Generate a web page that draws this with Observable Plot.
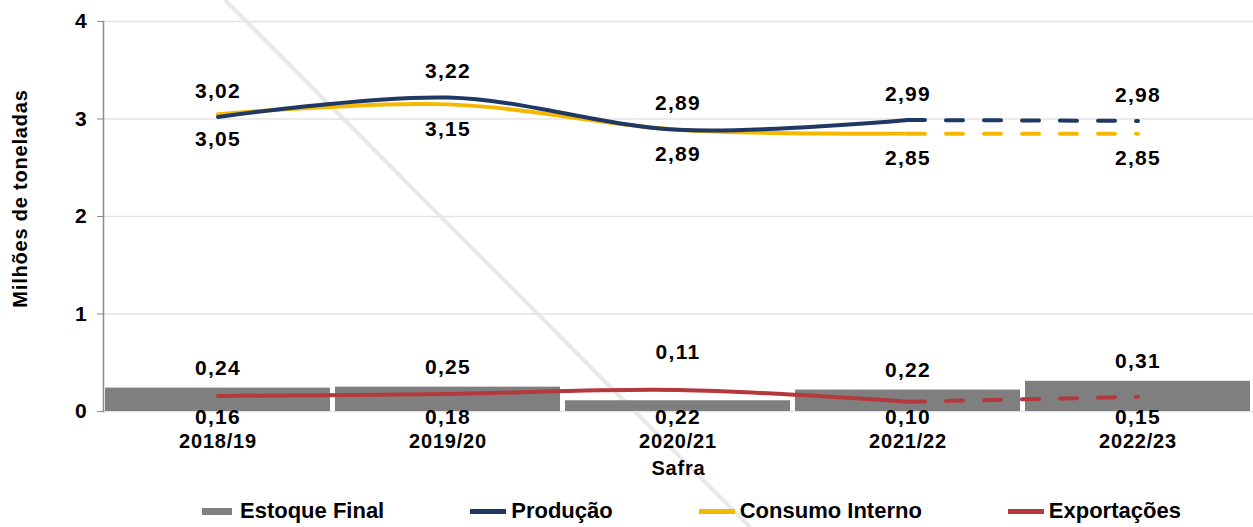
<!DOCTYPE html>
<html>
<head>
<meta charset="utf-8">
<script src="https://cdn.jsdelivr.net/npm/d3@7"></script>
<script src="https://cdn.jsdelivr.net/npm/@observablehq/plot@0.6"></script>
<style>
  body { margin: 0; background: #fff; font-family: "Liberation Sans", Arial, sans-serif; }
  #wrap { position: relative; width: 1253px; height: 527px; overflow: hidden; }
  #streak { position: absolute; left: 0; top: 0; z-index: 0; }
  #chart { position: absolute; left: 0; top: 0; z-index: 1; }
  #chart svg text { letter-spacing: 0.8px; }
  #chart svg g.value-label text { letter-spacing: 1.3px; }
  #legend { position: absolute; left: 202px; top: 498px; z-index: 1; display: flex; align-items: center;
            font: bold 22px "Liberation Sans", Arial, sans-serif; color: #000; }
  .item { display: flex; align-items: center; margin-right: 86px; }
  .item:last-child { margin-right: 0; }
  .sw { width: 36px; margin-right: 5px; }
</style>
</head>
<body>
<div id="wrap">
  <svg id="streak" width="1253" height="527"><line x1="225" y1="0" x2="750" y2="527" stroke="#e8e8e8" stroke-width="4"/></svg>
  <div id="chart"></div>
  <div id="legend"></div>
</div>
<script>
// Safras (crop years) and the supply/demand figures, in millions of tonnes
const safras = ["2018/19", "2019/20", "2020/21", "2021/22", "2022/23"];
const estoqueFinal   = [0.24, 0.25, 0.11, 0.22, 0.31];
const producao       = [3.02, 3.22, 2.89, 2.99, 2.98];
const consumoInterno = [3.05, 3.15, 2.89, 2.85, 2.85];
const exportacoes    = [0.16, 0.18, 0.22, 0.10, 0.15];
const yTicks = [0, 1, 2, 3, 4];
// The last safra is a projection: its line segments are drawn dashed
const projectedFrom = "2021/22";

const colors = {
  "Estoque Final": "#7f7f7f",
  "Produção": "#1f3864",
  "Consumo Interno": "#f5b800",
  "Exportações": "#b5383d"
};

const rows = (values) => safras.map((safra, i) => ({safra, value: values[i]}));
const estoqueRows = rows(estoqueFinal);
const prodRows = rows(producao);
const consRows = rows(consumoInterno);
const expRows = rows(exportacoes);

const cut = safras.indexOf(projectedFrom);
const solid = (r) => r.slice(0, cut + 1);
const dashed = (r) => r.slice(cut);

const fmt = (v) => v.toFixed(2).replace(".", ",");

function seriesLine(data, color) {
  return [
    Plot.line(solid(data), {x: "safra", y: "value", stroke: color, strokeWidth: 4,
      curve: "catmull-rom", strokeLinecap: "round"}),
    Plot.line(dashed(data), {x: "safra", y: "value", stroke: color, strokeWidth: 4,
      curve: "linear", strokeLinecap: "round", strokeDasharray: "17,21"})
  ];
}

const textStyle = {fontSize: 21, fontWeight: "bold", fill: "#000", className: "value-label", text: (d) => fmt(d.value)};

const chart = Plot.plot({
  width: 1253,
  height: 485,
  marginTop: 21,
  marginLeft: 103,
  marginRight: 0,
  marginBottom: 74,
  style: {background: "transparent", fontFamily: "'Liberation Sans', Arial, sans-serif", fontSize: "20px", fontWeight: "bold", color: "#000"},
  x: {type: "band", domain: safras, paddingInner: 0.02, paddingOuter: 0.005},
  y: {domain: [0, 4]},
  marks: [
    Plot.gridY(yTicks, {stroke: "#e3e3e3", strokeOpacity: 1, strokeWidth: 1.5}),
    Plot.barY(estoqueRows, {x: "safra", y: "value", fill: colors["Estoque Final"]}),
    Plot.frame({anchor: "left", stroke: "#8c8c8c", strokeWidth: 1.5}),
    ...seriesLine(expRows, colors["Exportações"]),
    ...seriesLine(consRows, colors["Consumo Interno"]),
    ...seriesLine(prodRows, colors["Produção"]),
    // value labels: Produção above its line, Consumo Interno below
    Plot.text(prodRows, {x: "safra", y: "value", dy: -26, ...textStyle}),
    Plot.text(consRows, {x: "safra", y: "value", dy: 25, ...textStyle}),
    // Estoque Final above the bars, lifted clear of the export line where it runs higher
    Plot.text(estoqueRows.filter((d, i) => d.value >= exportacoes[i]), {x: "safra", y: "value", dy: -20, ...textStyle}),
    Plot.text(estoqueRows.filter((d, i) => d.value < exportacoes[i]), {x: "safra", y: "value", dy: -49, ...textStyle}),
    // Exportações labels sit in a row just under the baseline
    Plot.text(expRows, {x: "safra", y: 0, dy: 6, ...textStyle}),
    Plot.axisY({ticks: yTicks, tickFormat: (d) => String(d), tickSize: 6, tickPadding: 10, stroke: "#8c8c8c",
      fontSize: 21, fontWeight: "bold", label: null}),
    Plot.text(["Milhões de toneladas"], {frameAnchor: "left", textAnchor: "middle", rotate: -90, dx: -83, dy: -18,
      fontSize: 20, fontWeight: "bold", fill: "#000"}),
    Plot.axisX({tickSize: 0, tickPadding: 22, fontSize: 20, fontWeight: "bold",
      label: "Safra", labelAnchor: "center", labelArrow: "none", labelOffset: 63})
  ]
});
document.getElementById("chart").append(chart);

// Legend below the chart
const legend = document.getElementById("legend");
for (const [name, color] of Object.entries(colors)) {
  const item = document.createElement("div");
  item.className = "item";
  const sw = document.createElement("span");
  sw.className = "sw";
  sw.style.background = color;
  sw.style.height = name === "Estoque Final" ? "7px" : "5px";
  if (name === "Estoque Final") { sw.style.width = "30px"; sw.style.marginRight = "8px"; }
  const label = document.createElement("span");
  label.textContent = name;
  item.append(sw, label);
  legend.append(item);
}
</script>
</body>
</html>
